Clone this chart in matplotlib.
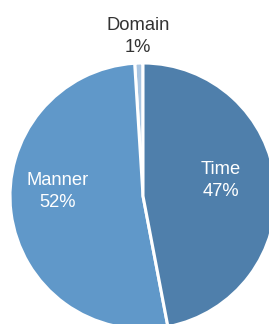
import numpy as np
import matplotlib
matplotlib.use("Agg")
import matplotlib.pyplot as plt

categories = ["Domain", "Manner", "Time"]
values = [1, 52, 47]
colors = ["#a9c5e1", "#6098c9", "#4f7fab"]

plt.rcParams['font.family'] = ['Liberation Sans', 'DejaVu Sans']

W, H = 269, 324
fig = plt.figure(figsize=(W / 100, H / 100), dpi=100)
ax = fig.add_axes([0, 0, 1, 1])
ax.axis('off')

r_px = 133
cx, cy = 143, 196

wedges, _ = ax.pie(values, colors=colors, startangle=90, counterclock=True,
                   radius=1.0, wedgeprops=dict(edgecolor='white', linewidth=2.2),
                   normalize=True)
ax.set_aspect('auto')
ax.set_xlim(-cx / r_px, (W - cx) / r_px)
ax.set_ylim(-(H - cy) / r_px, cy / r_px)

total = sum(values)
for w, cat, v in zip(wedges, categories, values):
    mid = np.deg2rad((w.theta1 + w.theta2) / 2)
    pct = f"{round(100 * v / total)}%"
    if v / total < 0.05:
        tx, ty, col = 1.21 * np.cos(mid), 1.20 * np.sin(mid), '#333333'
    else:
        tx = 0.62 * np.cos(mid) - 0.03
        ty = 0.083 + 0.39 * np.sin(mid)
        col = 'white'
    ax.text(tx, ty, f"{cat}\n{pct}", ha='center', va='center', color=col,
            fontsize=13.2, linespacing=1.38)

fig.savefig("out.png", dpi=100)
